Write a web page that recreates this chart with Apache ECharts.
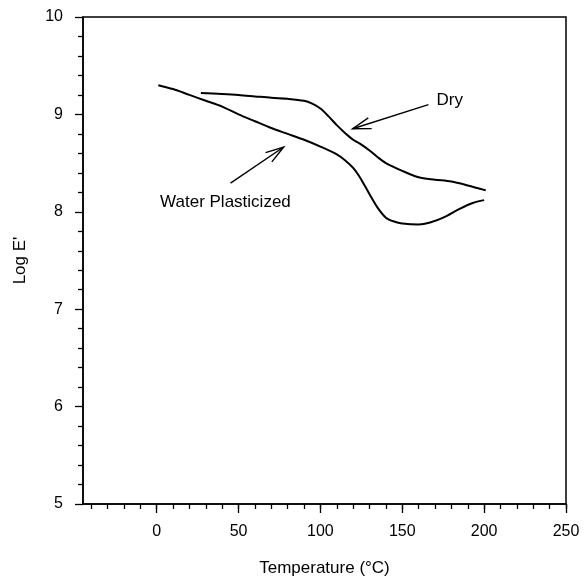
<!DOCTYPE html>
<html>
<head>
<meta charset="utf-8">
<script src="https://cdn.jsdelivr.net/npm/echarts@6/dist/echarts.min.js"></script>
<style>
  html, body { margin: 0; padding: 0; background: #fff; }
  #main { width: 584px; height: 582px; }
</style>
</head>
<body>
<div id="main"></div>
<script>
// 曲线数据
const waterTemp = [1, 10, 20, 30, 40, 50, 60, 70, 80, 90, 100, 110, 115, 120, 125, 130, 135, 140, 145, 150, 160, 167, 175, 185, 193, 200];
const waterLogE = [9.30, 9.26, 9.20, 9.14, 9.08, 9.00, 8.93, 8.86, 8.80, 8.74, 8.67, 8.59, 8.53, 8.45, 8.33, 8.18, 8.04, 7.94, 7.90, 7.88, 7.87, 7.89, 7.94, 8.03, 8.09, 8.12];

const dryTemp = [27, 40, 50, 60, 70, 80, 90, 95, 100, 105, 110, 115, 120, 125, 130, 135, 140, 150, 160, 170, 180, 190, 201];
const dryLogE = [9.22, 9.21, 9.20, 9.185, 9.17, 9.16, 9.14, 9.11, 9.06, 8.98, 8.89, 8.81, 8.74, 8.69, 8.63, 8.56, 8.50, 8.42, 8.355, 8.33, 8.31, 8.27, 8.22];

// 坐标轴刻度
const xLabelTicks = [0, 50, 100, 150, 200, 250];
const xMinorTicks = [-40, -30, -20, -10, 0, 10, 20, 30, 40, 50, 60, 70, 80, 90, 100, 110, 120, 130, 140, 150, 160, 170, 180, 190, 200, 210, 220, 230, 240, 250];

// 标注: [起点x, 起点y, 箭头x, 箭头y]
const arrows = [
  [45.1, 8.295, 77.6, 8.665],
  [166, 9.10, 119.7, 8.853]
];
const notes = [
  [42, 8.10, 'Water Plasticized'],
  [179, 9.14, 'Dry']
];

const font = "'Liberation Sans', Arial, sans-serif";
const zip = (a, b) => a.map((v, i) => [v, b[i]]);

const myChart = echarts.init(document.getElementById('main'));

const option = {
  backgroundColor: '#fff',
  animation: false,
  grid: {
    left: 83, right: 18, top: 17, bottom: 78,
    show: true, borderColor: '#000', borderWidth: 1.5, backgroundColor: 'transparent'
  },
  xAxis: [
    {
      // 主刻度 + 标签
      type: 'value', min: -45, max: 250,
      name: 'Temperature (°C)', nameLocation: 'middle', nameGap: 56,
      nameTextStyle: { color: '#000', fontSize: 17, fontFamily: font },
      axisLine: { onZero: false, lineStyle: { color: '#000', width: 1.5 } },
      axisTick: { show: true, length: 9, lineStyle: { color: '#000', width: 1.3 }, customValues: xLabelTicks },
      axisLabel: { color: '#000', fontSize: 16, fontFamily: font, margin: 20, customValues: xLabelTicks },
      splitLine: { show: false }
    },
    {
      // 次刻度
      type: 'value', min: -45, max: 250, position: 'bottom',
      axisLine: { show: false, onZero: false },
      axisTick: { show: true, length: 5, lineStyle: { color: '#000', width: 1.3 }, customValues: xMinorTicks },
      axisLabel: { show: false },
      splitLine: { show: false }
    }
  ],
  yAxis: {
    type: 'value', min: 5, max: 10, interval: 1,
    name: "Log E'", nameLocation: 'middle', nameGap: 54,
    nameTextStyle: { color: '#000', fontSize: 17, fontFamily: font },
    axisLine: { show: true, onZero: false, lineStyle: { color: '#000', width: 1.5 } },
    axisTick: { show: true, length: 8, lineStyle: { color: '#000', width: 1.3 } },
    minorTick: { show: true, splitNumber: 5, length: 5, lineStyle: { color: '#000', width: 1.3 } },
    axisLabel: { color: '#000', fontSize: 16, fontFamily: font, margin: 20 },
    splitLine: { show: false }
  },
  series: [
    {
      name: 'Water Plasticized', type: 'line', xAxisIndex: 0,
      data: zip(waterTemp, waterLogE),
      smooth: 0.3, showSymbol: false,
      lineStyle: { color: '#000', width: 2 }
    },
    {
      name: 'Dry', type: 'line', xAxisIndex: 0,
      data: zip(dryTemp, dryLogE),
      smooth: 0.3, showSymbol: false,
      lineStyle: { color: '#000', width: 2 }
    },
    {
      type: 'custom', xAxisIndex: 0,
      data: arrows,
      silent: true,
      renderItem: function (params, api) {
        const p0 = api.coord([api.value(0), api.value(1)]);
        const p1 = api.coord([api.value(2), api.value(3)]);
        const ang = Math.atan2(p1[1] - p0[1], p1[0] - p0[0]);
        const len = 19, spread = 0.3;
        const h1 = [p1[0] - len * Math.cos(ang - spread), p1[1] - len * Math.sin(ang - spread)];
        const h2 = [p1[0] - len * Math.cos(ang + spread), p1[1] - len * Math.sin(ang + spread)];
        const st = { stroke: '#000', fill: null, lineWidth: 1.4 };
        return {
          type: 'group',
          children: [
            { type: 'line', shape: { x1: p0[0], y1: p0[1], x2: p1[0], y2: p1[1] }, style: st },
            { type: 'polyline', shape: { points: [h1, p1, h2] }, style: st }
          ]
        };
      }
    },
    {
      type: 'custom', xAxisIndex: 0,
      data: notes,
      silent: true,
      renderItem: function (params, api) {
        const p = api.coord([api.value(0), api.value(1)]);
        return {
          type: 'text',
          x: p[0], y: p[1],
          style: {
            text: notes[params.dataIndex][2],
            fill: '#000', font: '17px ' + font,
            align: 'center', verticalAlign: 'middle'
          }
        };
      }
    }
  ]
};

myChart.setOption(option);
</script>
</body>
</html>
